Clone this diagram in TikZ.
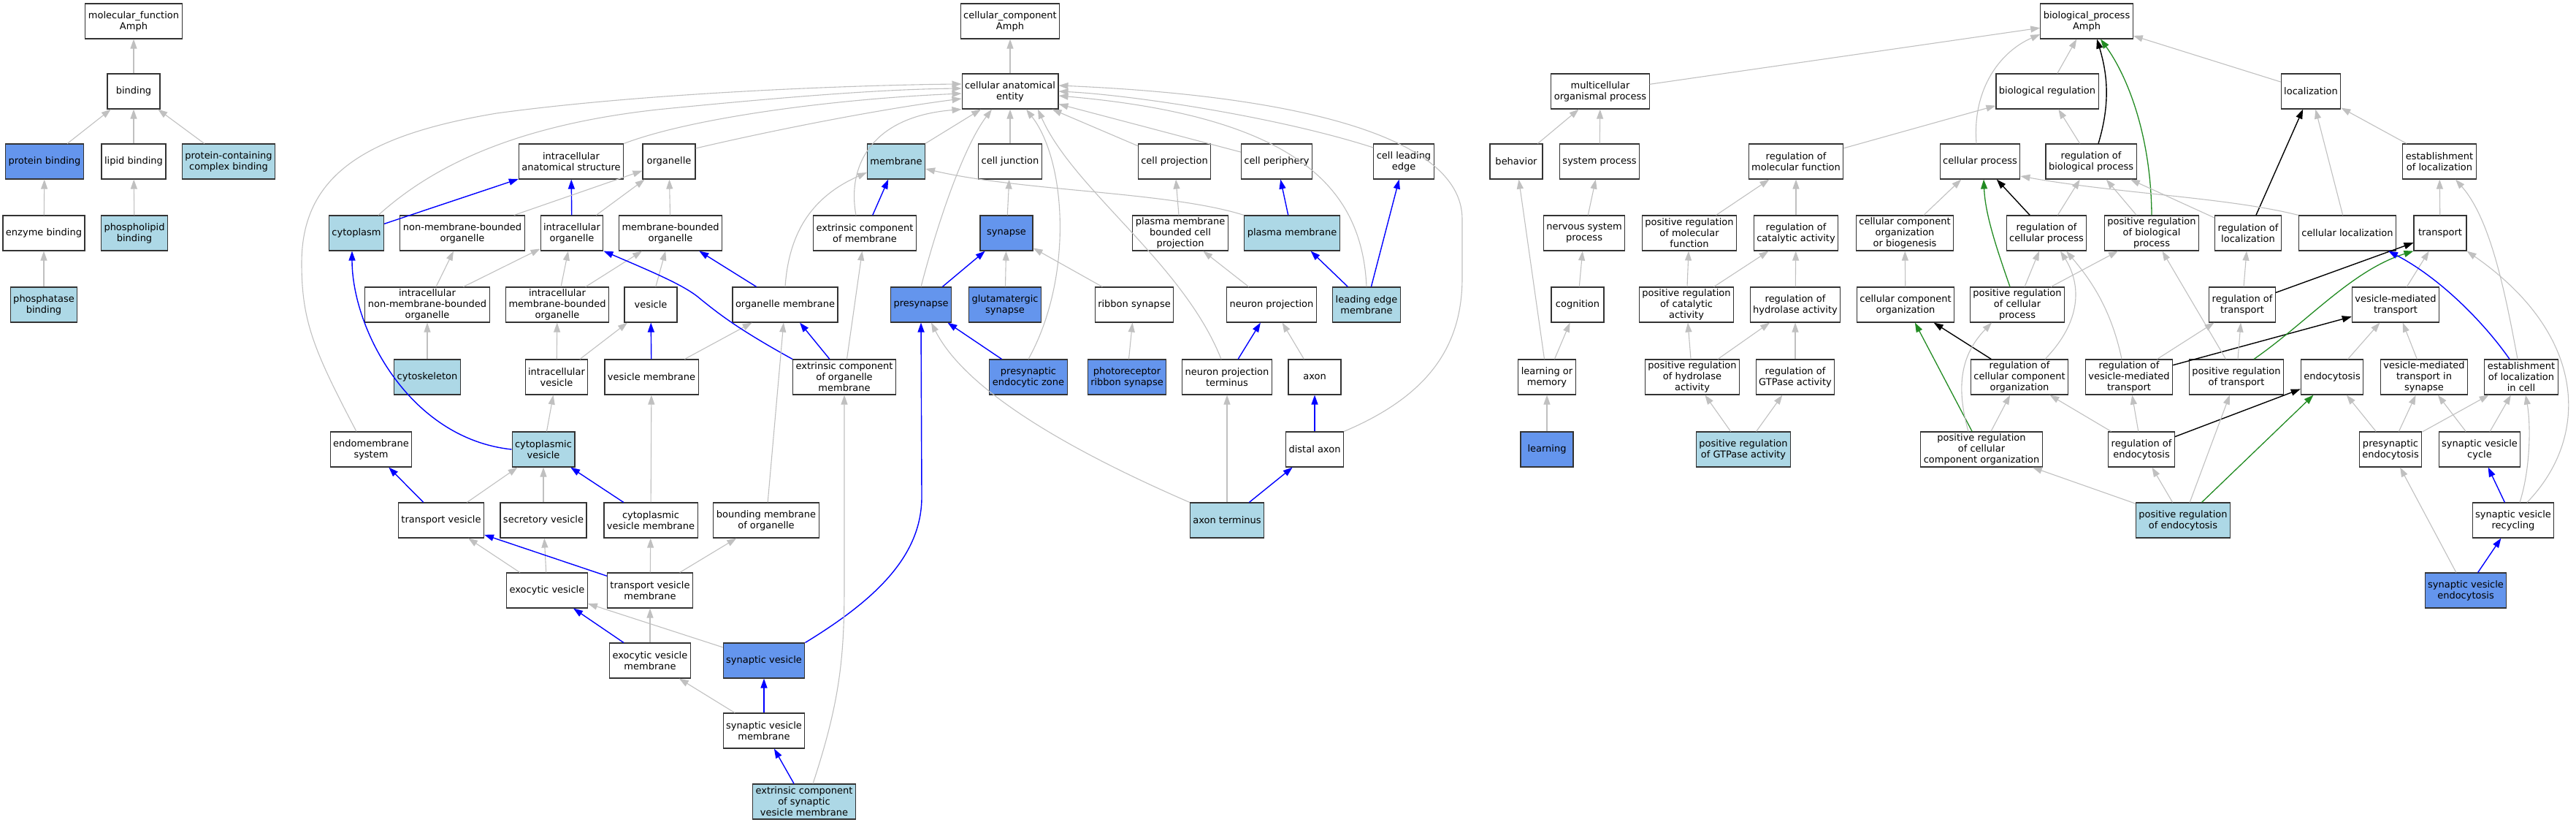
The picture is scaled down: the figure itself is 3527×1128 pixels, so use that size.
\documentclass[tikz,border=0pt]{standalone}
\usepackage{fontspec}
\setmainfont{DejaVu Sans}
\usetikzlibrary{arrows.meta}
\definecolor{hitblue}{HTML}{6495ED}
\definecolor{siglight}{HTML}{ADD8E6}
\definecolor{edgegray}{HTML}{C0C0C0}
\definecolor{posgreen}{HTML}{228B22}
\newcommand{\goterm}[5][term]{\node[#1] (#2) at (#3,#4) {#5};}
\tikzset{
  term/.style   = {draw=black!80, line width=1.1pt, fill=white, rectangle,
                   minimum width=72pt, minimum height=48pt,
                   inner xsep=4pt, inner ysep=2pt, align=center,
                   font=\fontsize{13}{15}\selectfont},
  hit/.style    = {term, fill=hitblue},
  sig/.style    = {term, fill=siglight},
  isa/.style    = {draw=edgegray, line width=1.1pt, -{Triangle[length=13pt,width=9pt]}},
  partof/.style = {draw=blue, line width=1.4pt, -{Triangle[length=13pt,width=9pt]}},
  regul/.style  = {draw=black, line width=1.4pt, -{Triangle[length=13pt,width=9pt]}},
  posreg/.style = {draw=posgreen, line width=1.3pt, -{Triangle[length=13pt,width=9pt]}}
}

\begin{document}
\begin{tikzpicture}[x=1pt,y=-1pt]
	\useasboundingbox (0,0) rectangle (3527,1128);
	% molecular function
	\goterm{mf}{183}{29}{molecular\_function\\Amph}
	\goterm{bind}{183}{125}{binding}
	\goterm[hit]{protbind}{61}{221}{protein binding}
	\goterm{lipbind}{183}{221}{lipid binding}
	\goterm[sig]{pcbind}{313}{221}{protein-containing\\complex binding}
	\goterm{enzbind}{60}{319}{enzyme binding}
	\goterm[sig]{phosbind}{184}{319}{phospholipid\\binding}
	\goterm[sig]{phatbind}{60}{417}{phosphatase\\binding}
	% cellular component
	\goterm{cc}{1383}{29}{cellular\_component\\Amph}
	\goterm{cae}{1383}{125}{cellular anatomical\\entity}
	\goterm{ias}{782}{221}{intracellular\\anatomical structure}
	\goterm{orgl}{916}{221}{organelle}
	\goterm[sig]{memb}{1227}{221}{membrane}
	\goterm{celljunc}{1383}{221}{cell junction}
	\goterm{cellproj}{1608}{221}{cell projection}
	\goterm{cellper}{1748}{221}{cell periphery}
	\goterm{cle}{1922}{221}{cell leading\\edge}
	\goterm[sig]{cyto}{488}{319}{cytoplasm}
	\goterm{nmbo}{633}{319}{non-membrane-bounded\\organelle}
	\goterm{iorg}{783}{319}{intracellular\\organelle}
	\goterm{mbo}{918}{319}{membrane-bounded\\organelle}
	\goterm{ecm}{1184}{319}{extrinsic component\\of membrane}
	\goterm[hit]{syn}{1378}{319}{synapse}
	\goterm{pmbcp}{1616}{319}{plasma membrane\\bounded cell\\projection}
	\goterm[sig]{pm}{1769}{319}{plasma membrane}
	\goterm{inmbo}{585}{417}{intracellular\\non-membrane-bounded\\organelle}
	\goterm{imbo}{763}{417}{intracellular\\membrane-bounded\\organelle}
	\goterm{ves}{891}{417}{vesicle}
	\goterm{orgmem}{1075}{417}{organelle membrane}
	\goterm[hit]{presyn}{1261}{417}{presynapse}
	\goterm[hit]{glusyn}{1376}{417}{glutamatergic\\synapse}
	\goterm{ribsyn}{1553}{417}{ribbon synapse}
	\goterm{neuproj}{1741}{417}{neuron projection}
	\goterm[sig]{lem}{1871}{417}{leading edge\\membrane}
	\goterm[sig]{cytosk}{585}{516}{cytoskeleton}
	\goterm{ives}{762}{516}{intracellular\\vesicle}
	\goterm{vesmem}{892}{516}{vesicle membrane}
	\goterm{ecom}{1156}{516}{extrinsic component\\of organelle\\membrane}
	\goterm[hit]{pez}{1408}{516}{presynaptic\\endocytic zone}
	\goterm[hit]{prs}{1543}{516}{photoreceptor\\ribbon synapse}
	\goterm{npt}{1680}{516}{neuron projection\\terminus}
	\goterm{axon}{1800}{516}{axon}
	\goterm{endo}{508}{615}{endomembrane\\system}
	\goterm[sig]{cves}{744}{615}{cytoplasmic\\vesicle}
	\goterm{distax}{1800}{615}{distal axon}
	\goterm{tves}{604}{712}{transport vesicle}
	\goterm{secves}{744}{712}{secretory vesicle}
	\goterm{cvm}{891}{712}{cytoplasmic\\vesicle membrane}
	\goterm{bmo}{1049}{712}{bounding membrane\\of organelle}
	\goterm[sig]{axterm}{1680}{712}{axon terminus}
	\goterm{exves}{749}{808}{exocytic vesicle}
	\goterm{tvm}{890}{808}{transport vesicle\\membrane}
	\goterm{evm}{890}{904}{exocytic vesicle\\membrane}
	\goterm[hit]{synves}{1046}{904}{synaptic vesicle}
	\goterm{svm}{1046}{1000}{synaptic vesicle\\membrane}
	\goterm[sig]{ecsvm}{1101}{1097}{extrinsic component\\of synaptic\\vesicle membrane}
	% biological process
	\goterm{bp}{2857}{29}{biological\_process\\Amph}
	\goterm{mop}{2191}{125}{multicellular\\organismal process}
	\goterm{bioreg}{2803}{125}{biological regulation}
	\goterm{loc}{3164}{125}{localization}
	\goterm{behav}{2076}{221}{behavior}
	\goterm{sysproc}{2190}{221}{system process}
	\goterm{rmf}{2459}{221}{regulation of\\molecular function}
	\goterm{cellproc}{2711}{221}{cellular process}
	\goterm{rbp}{2863}{221}{regulation of\\biological process}
	\goterm{estloc}{3340}{221}{establishment\\of localization}
	\goterm{nsp}{2169}{319}{nervous system\\process}
	\goterm{prmf}{2313}{319}{positive regulation\\of molecular\\function}
	\goterm{rca}{2459}{319}{regulation of\\catalytic activity}
	\goterm{ccob}{2608}{319}{cellular component\\organization\\or biogenesis}
	\goterm{rcp}{2802}{319}{regulation of\\cellular process}
	\goterm{prbp}{2946}{319}{positive regulation\\of biological\\process}
	\goterm{rloc}{3078}{319}{regulation of\\localization}
	\goterm{cellloc}{3214}{319}{cellular localization}
	\goterm{transp}{3341}{319}{transport}
	\goterm{cogn}{2160}{417}{cognition}
	\goterm{prca}{2309}{417}{positive regulation\\of catalytic\\activity}
	\goterm{rha}{2458}{417}{regulation of\\hydrolase activity}
	\goterm{cco}{2609}{417}{cellular component\\organization}
	\goterm{prcp}{2762}{417}{positive regulation\\of cellular\\process}
	\goterm{rtr}{3070}{417}{regulation of\\transport}
	\goterm{vmt}{3280}{417}{vesicle-mediated\\transport}
	\goterm{lom}{2118}{516}{learning or\\memory}
	\goterm{prha}{2317}{516}{positive regulation\\of hydrolase\\activity}
	\goterm{rgtp}{2458}{516}{regulation of\\GTPase activity}
	\goterm{rcco}{2765}{516}{regulation of\\cellular component\\organization}
	\goterm{rvmt}{2915}{516}{regulation of\\vesicle-mediated\\transport}
	\goterm{prtr}{3062}{516}{positive regulation\\of transport}
	\goterm{endocyt}{3193}{516}{endocytosis}
	\goterm{vmtsyn}{3319}{516}{vesicle-mediated\\transport in\\synapse}
	\goterm{elic}{3452}{516}{establishment\\of localization\\in cell}
	\goterm[hit]{learn}{2118}{615}{learning}
	\goterm[sig]{prgtp}{2387}{615}{positive regulation\\of GTPase activity}
	\goterm{prcco}{2713}{615}{positive regulation\\of cellular\\component organization}
	\goterm{rendo}{2932}{615}{regulation of\\endocytosis}
	\goterm{psendo}{3273}{615}{presynaptic\\endocytosis}
	\goterm{svc}{3395}{615}{synaptic vesicle\\cycle}
	\goterm[sig]{prendo}{2989}{712}{positive regulation\\of endocytosis}
	\goterm{svr}{3441}{712}{synaptic vesicle\\recycling}
	\goterm[hit]{sve}{3376}{808}{synaptic vesicle\\endocytosis}
	% molecular function edges
	\draw[isa] (bind) -- (mf);
	\draw[isa] (protbind) -- (bind);
	\draw[isa] (lipbind) -- (bind);
	\draw[isa] (pcbind) -- (bind);
	\draw[isa] (enzbind) -- (protbind);
	\draw[isa] (phosbind) -- (lipbind);
	\draw[isa] (phatbind) -- (enzbind);
	% cellular component edges
	\draw[isa] (cae) -- (cc);
	\draw[isa] (memb) -- (cae);
	\draw[isa] (celljunc) -- (cae);
	\draw[isa] (cellproj) -- (cae);
	\draw[isa] (cellper) -- (cae);
	\draw[isa] ([xshift=-20pt]endo.north) .. controls (430,480) and (413,440) .. (413,360)
	  .. controls (413,240) and (500,185) .. (680,155) .. controls (900,125) and (1200,116) .. ([yshift=10pt]cae.west);
	\draw[isa] ([xshift=30pt]cyto.north) .. controls (600,220) and (720,170) .. (900,150)
	  .. controls (1100,130) and (1220,122) .. ([yshift=4pt]cae.west);
	\draw[isa] (ias.north east) .. controls (950,160) and (1150,135) .. ([yshift=-3pt]cae.west);
	\draw[isa] ([yshift=18pt]orgl.east) .. controls (1050,180) and (1200,150) .. ([yshift=-10pt]cae.west);
	\draw[isa] ([xshift=-12pt]ecm.north) .. controls (1160,230) and (1190,160) .. (cae.south west);
	\draw[isa] (presyn.north) .. controls (1285,300) and (1320,200) .. ([xshift=-25pt]cae.south);
	\draw[isa] (pez.north) .. controls (1470,380) and (1460,220) .. ([xshift=22pt]cae.south);
	\draw[isa] ([xshift=-8pt]npt.north) .. controls (1620,360) and (1470,260) .. ([xshift=38pt]cae.south);
	\draw[isa] ([yshift=19pt]cle.west) .. controls (1750,160) and (1550,130) .. (cae.east);
	\draw[isa] (lem.north) .. controls (1865,260) and (1780,160) .. ([yshift=-6pt]cae.east);
	\draw[isa] (distax.north east) .. controls (1960,540) and (2002,470) .. (2002,380) -- (2002,300)
	  .. controls (2002,180) and (1750,130) .. ([yshift=8pt]cae.east);
	\draw[partof] (cyto) -- (ias);
	\draw[partof] (iorg) -- (ias);
	\draw[isa] (nmbo) -- (orgl);
	\draw[isa] (iorg) -- (orgl);
	\draw[isa] (mbo) -- (orgl);
	\draw[isa] (inmbo) -- (nmbo);
	\draw[isa] (inmbo) -- (iorg);
	\draw[isa] (imbo) -- (iorg);
	\draw[isa] (imbo) -- (mbo);
	\draw[isa] (ves) -- (mbo);
	\draw[partof] (orgmem) -- (mbo);
	\draw[partof] (ecm) -- (memb);
	\draw[isa] (orgmem.north) .. controls (1080,320) and (1110,270) .. ([yshift=-15pt]memb.west);
	\draw[isa] (pm.north west) .. controls (1600,262) and (1400,262) .. ([yshift=-10pt]memb.east);
	\draw[isa] (syn) -- (celljunc);
	\draw[isa] (pmbcp) -- (cellproj);
	\draw[partof] (pm) -- (cellper);
	\draw[partof] (lem) -- (cle);
	\draw[isa] (cytosk) -- (inmbo);
	\draw[isa] (ives) -- (imbo);
	\draw[isa] (ives) -- (ves);
	\draw[partof] (vesmem) -- (ves);
	\draw[isa] (vesmem) -- (orgmem);
	\draw[partof] (ecom) -- (orgmem);
	\draw[isa] (ecom) -- (ecm);
	\draw[partof] (ecom.north west) .. controls (1010,450) and (985,430) .. (960,410)
	  .. controls (940,392) and (900,375) .. (iorg.south east);
	\draw[partof] (presyn) -- (syn);
	\draw[isa] (glusyn) -- (syn);
	\draw[isa] (ribsyn) -- (syn);
	\draw[partof] (pez) -- (presyn);
	\draw[isa] (prs) -- (ribsyn);
	\draw[isa] (neuproj) -- (pmbcp);
	\draw[partof] (npt) -- (neuproj);
	\draw[isa] (axon) -- (neuproj);
	\draw[partof] (lem) -- (pm);
	\draw[isa] (cves) -- (ives);
	\draw[partof] (cves.west) .. controls (560,600) and (482,450) .. ([xshift=-6pt]cyto.south);
	\draw[partof] (distax) -- (axon);
	\draw[isa] (tves) -- (cves);
	\draw[isa] (secves) -- (cves);
	\draw[partof] (cvm) -- (cves);
	\draw[partof] (tves) -- (endo);
	\draw[isa] (cvm) -- (vesmem);
	\draw[isa] (bmo) -- (orgmem);
	\draw[partof] (axterm) -- (distax);
	\draw[isa] (axterm) -- (npt);
	\draw[isa] (axterm.north west) .. controls (1450,610) and (1320,530) .. ([xshift=14pt]presyn.south);
	\draw[isa] (exves) -- (tves);
	\draw[isa] (exves) -- (secves);
	\draw[partof] (tvm) -- (tves);
	\draw[isa] (tvm) -- (cvm);
	\draw[isa] (tvm) -- (bmo);
	\draw[isa] (evm) -- (tvm);
	\draw[partof] (evm) -- (exves);
	\draw[isa] (synves) -- (exves);
	\draw[partof] (synves.north east) .. controls (1200,820) and (1262,760) .. (1262,680) -- (presyn.south);
	\draw[partof] (svm) -- (synves);
	\draw[isa] (svm) -- (evm);
	\draw[partof] (ecsvm) -- (svm);
	\draw[isa] ([xshift=12pt]ecsvm.north) .. controls (1150,960) and (1156,900) .. (1156,800) -- (ecom.south);
	% biological process edges
	\draw[isa] (mop) -- (bp);
	\draw[isa] (bioreg) -- (bp);
	\draw[isa] (loc) -- (bp);
	\draw[isa] ([xshift=-5pt]cellproc.north) .. controls (2700,120) and (2740,70) .. ([yshift=-18pt]bp.west);
	\draw[regul] ([xshift=10pt]rbp.north) .. controls (2890,140) and (2885,100) .. ([xshift=14pt]bp.south);
	\draw[posreg] (prbp.north) .. controls (2945,180) and (2910,100) .. ([xshift=19pt]bp.south);
	\draw[isa] (behav) -- (mop);
	\draw[isa] (sysproc) -- (mop);
	\draw[isa] (rmf) -- (bioreg);
	\draw[isa] (rbp) -- (bioreg);
	\draw[isa] (estloc) -- (loc);
	\draw[regul] (rloc) -- (loc);
	\draw[isa] (cellloc) -- (loc);
	\draw[isa] (nsp) -- (sysproc);
	\draw[isa] (prmf) -- (rmf);
	\draw[isa] (rca) -- (rmf);
	\draw[isa] (ccob) -- (cellproc);
	\draw[regul] (rcp) -- (cellproc);
	\draw[posreg] ([xshift=-10pt]prcp.north) .. controls (2730,330) and (2718,290) .. ([xshift=5pt]cellproc.south);
	\draw[isa] (cellloc.north west) .. controls (3050,270) and (2900,265) .. ([yshift=-20pt]cellproc.east);
	\draw[isa] (rcp) -- (rbp);
	\draw[isa] (prbp) -- (rbp);
	\draw[isa] (rloc) -- (rbp);
	\draw[isa] (transp) -- (estloc);
	\draw[isa] ([xshift=-5pt]elic.north) .. controls (3430,400) and (3410,300) .. ([xshift=22pt]estloc.south);
	\draw[isa] (cogn) -- (nsp);
	\draw[isa] (prca) -- (prmf);
	\draw[isa] (prca) -- (rca);
	\draw[isa] (rha) -- (rca);
	\draw[isa] (cco) -- (ccob);
	\draw[isa] (prcp) -- (rcp);
	\draw[isa] (prcp) -- (prbp);
	\draw[isa] (rtr) -- (rloc);
	\draw[regul] (rtr) -- (transp);
	\draw[isa] (vmt) -- (transp);
	\draw[isa] (lom) -- (behav);
	\draw[isa] (lom) -- (cogn);
	\draw[isa] (prha) -- (prca);
	\draw[isa] (prha) -- (rha);
	\draw[isa] (rgtp) -- (rha);
	\draw[regul] (rcco) -- (cco);
	\draw[isa] ([xshift=35pt]rcco.north) .. controls (2850,440) and (2850,390) .. ([xshift=19pt]rcp.south);
	\draw[isa] ([xshift=-10pt]rvmt.north) .. controls (2890,420) and (2860,380) .. ([xshift=27pt]rcp.south);
	\draw[isa] (rvmt) -- (rtr);
	\draw[regul] (rvmt) -- (vmt);
	\draw[isa] (prtr) -- (prbp);
	\draw[isa] (prtr) -- (rtr);
	\draw[posreg] ([xshift=24pt]prtr.north) .. controls (3160,440) and (3220,370) .. (transp.south west);
	\draw[isa] (endocyt) -- (vmt);
	\draw[isa] (vmtsyn) -- (vmt);
	\draw[partof] ([xshift=-16pt]elic.north) .. controls (3400,440) and (3340,380) .. ([xshift=56pt]cellloc.south);
	\draw[isa] (learn) -- (lom);
	\draw[isa] (prgtp) -- (prha);
	\draw[isa] (prgtp) -- (rgtp);
	\draw[posreg] (prcco) -- (cco);
	\draw[isa] (prcco) -- (rcco);
	\draw[isa] ([xshift=-18pt]prcco.north) .. controls (2675,520) and (2690,480) .. ([xshift=-35pt]prcp.south);
	\draw[isa] (rendo) -- (rcco);
	\draw[isa] (rendo) -- (rvmt);
	\draw[regul] (rendo) -- (endocyt);
	\draw[isa] (psendo) -- (endocyt);
	\draw[isa] (psendo) -- (vmtsyn);
	\draw[isa] (psendo) -- (elic);
	\draw[isa] (svc) -- (vmtsyn);
	\draw[isa] (svc) -- (elic);
	\draw[isa] (prendo) -- (prcco);
	\draw[isa] (prendo) -- (rendo);
	\draw[isa] (prendo) -- (prtr);
	\draw[posreg] (prendo) -- (endocyt);
	\draw[partof] (svr) -- (svc);
	\draw[isa] ([xshift=9pt]svr.north) .. controls (3465,640) and (3465,580) .. ([xshift=6pt]elic.south);
	\draw[isa] ([xshift=19pt]svr.north) .. controls (3545,600) and (3545,460) .. (transp.south east);
	\draw[partof] (sve) -- (svr);
	\draw[isa] (sve) -- (psendo);
\end{tikzpicture}
\end{document}
